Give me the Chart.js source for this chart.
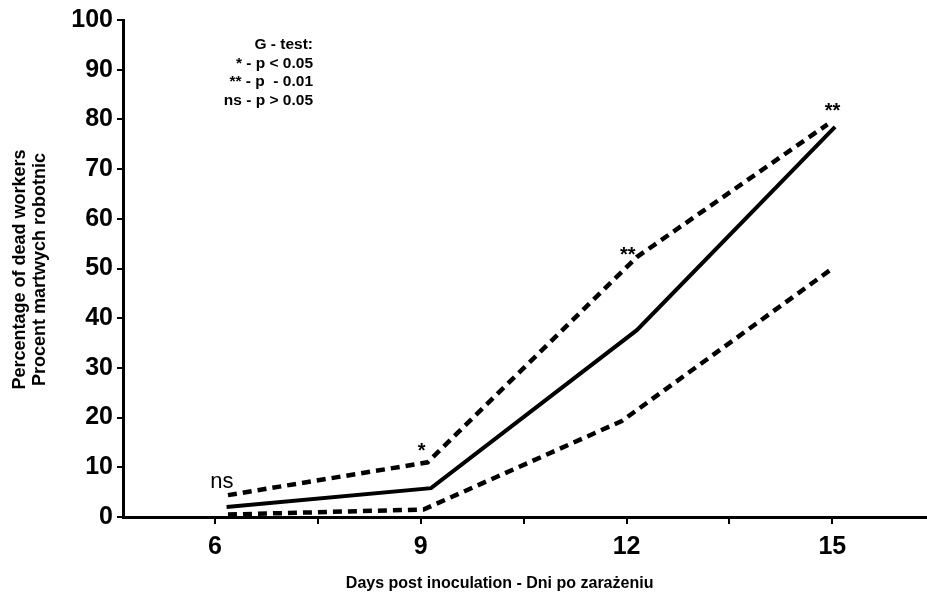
<!DOCTYPE html>
<html>
<head>
<meta charset="utf-8">
<script src="https://cdn.jsdelivr.net/npm/chart.js@4.4.1/dist/chart.umd.min.js"></script>
<style>
  html, body { margin: 0; padding: 0; background: #fff; }
  #wrap { width: 927px; height: 597px; position: relative; }
</style>
</head>
<body>
<div id="wrap"><canvas id="c"></canvas></div>
<script>
// ---- data ----
const meanX  = [6.17, 9.15, 12.15, 15.04];
const meanY  = [2.0, 5.8, 37.6, 78.5];
const upperX = [6.19, 9.10, 12.15, 14.93];
const upperY = [4.4, 11.0, 52.3, 79.0];
const lowerX = [6.19, 9.04, 11.93, 14.97];
const lowerY = [0.5, 1.5, 19.3, 49.7];
const sigLabels = ['ns', '*', '**', '**'];
const xTickValues = [6, 7.5, 9, 10.5, 12, 13.5, 15];
const xTickLabels = ['6', '9', '12', '15'];
const legendLines = ['G - test:', '* - p < 0.05', '** - p  - 0.01', 'ns - p > 0.05'];
const xTitle = 'Days post inoculation - Dni po zarażeniu';
const yTitle = ['Percentage of dead workers', 'Procent martwych robotnic'];

const FONT = '"Liberation Sans", Arial, sans-serif';
const pts = (xs, ys) => xs.map((x, i) => ({ x: x, y: ys[i] }));

const textPlugin = {
  id: 'texts',
  afterDatasetsDraw(chart) {
    const ctx = chart.ctx;
    const xs = chart.scales.x;
    ctx.save();
    ctx.fillStyle = '#000';
    // significance labels above upper dashed line
    const offs = [[-6, -13, 'normal 22px '], [-6, -11, 'bold 20px '], [-9, -2, 'bold 20px '], [5, -13, 'bold 20px ']];
    const upMeta = chart.getDatasetMeta(1).data;
    sigLabels.forEach((s, i) => {
      const p = upMeta[i];
      ctx.font = offs[i][2] + FONT;
      ctx.textAlign = 'center';
      ctx.textBaseline = 'middle';
      ctx.fillText(s, p.x + offs[i][0], p.y + offs[i][1]);
    });
    // legend box text
    ctx.font = 'bold 15.5px ' + FONT;
    ctx.textAlign = 'right';
    ctx.textBaseline = 'middle';
    const lx = chart.chartArea.left + 190;
    legendLines.forEach((t, i) => {
      ctx.fillText(t, lx, chart.chartArea.top + 25 + i * 18.5);
    });
    // x title
    ctx.font = 'bold 16px ' + FONT;
    ctx.textAlign = 'center';
    ctx.fillText(xTitle, xs.getPixelForValue(10.15), chart.chartArea.bottom + 67);
    // y title
    ctx.font = 'bold 18px ' + FONT;
    const cy = (chart.chartArea.top + chart.chartArea.bottom) / 2 + 1;
    ctx.translate(0, cy);
    ctx.rotate(-Math.PI / 2);
    ctx.fillText(yTitle[0], 0, 20);
    ctx.fillText(yTitle[1], 0, 40);
    ctx.restore();
  }
};

new Chart(document.getElementById('c'), {
  type: 'line',
  data: {
    datasets: [
      { data: pts(meanX, meanY), borderColor: '#000', borderWidth: 4, pointRadius: 0, tension: 0 },
      { data: pts(upperX, upperY), borderColor: '#000', borderWidth: 4.5, borderDash: [9, 6], pointRadius: 0, tension: 0 },
      { data: pts(lowerX, lowerY), borderColor: '#000', borderWidth: 4.5, borderDash: [9, 6], pointRadius: 0, tension: 0 }
    ]
  },
  options: {
    responsive: true,
    maintainAspectRatio: false,
    animation: false,
    events: [],
    layout: { padding: { top: 20, right: 0, left: 0, bottom: 0 } },
    plugins: { legend: { display: false }, tooltip: { enabled: false } },
    scales: {
      x: {
        type: 'linear',
        min: 4.66,
        max: 16.38,
        afterBuildTicks(scale) {
          scale.ticks = xTickValues.map(v => ({ value: v }));
        },
        afterFit(scale) { scale.height = 80; },
        ticks: {
          autoSkip: false,
          maxRotation: 0,
          color: '#000',
          font: { family: FONT, size: 25, weight: 'bold' },
          padding: 8,
          callback: (v) => xTickLabels.includes(String(v)) ? String(v) : ''
        },
        grid: { drawOnChartArea: false, drawTicks: true, tickLength: 7, color: '#000', lineWidth: 2 },
        border: { display: true, color: '#000', width: 3 }
      },
      y: {
        min: 0,
        max: 100,
        afterFit(scale) { scale.width = 123; },
        ticks: {
          stepSize: 10,
          color: '#000',
          font: { family: FONT, size: 25, weight: 'bold' },
          padding: 4
        },
        grid: { drawOnChartArea: false, drawTicks: true, tickLength: 6, color: '#000', lineWidth: 2 },
        border: { display: true, color: '#000', width: 3 }
      }
    }
  },
  plugins: [textPlugin]
});
</script>
</body>
</html>
